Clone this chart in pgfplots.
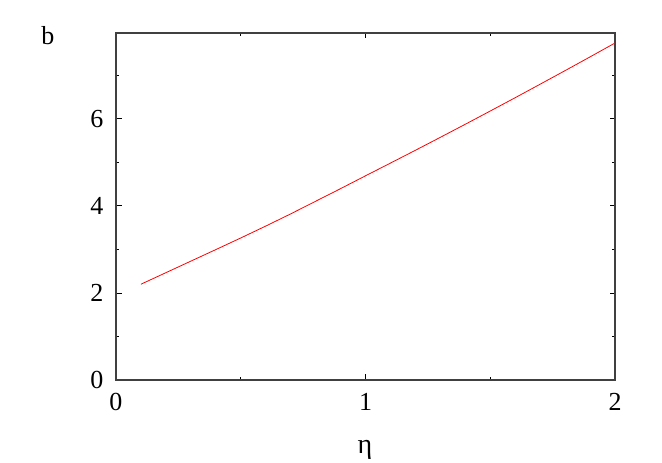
\documentclass[border=0pt]{standalone}
\usepackage{fontspec}
\setmainfont{Liberation Serif}
\usepackage{pgfplots}
\pgfplotsset{compat=1.18}
\definecolor{curvered}{HTML}{FF0000}

\begin{document}
\begin{tikzpicture}
\path[use as bounding box] (-116pt,-83pt) rectangle (546pt,380pt);
\begin{axis}[
  at={(0,0)}, anchor=south west,
  scale only axis, width=499pt, height=347pt,
  xmin=0, xmax=2, ymin=0, ymax=7.97,
  xtick={0,1,2}, ytick={0,2,4,6},
  minor xtick={0.5,1.5}, minor ytick={1,3,5,7},
  tick align=inside,
  major tick length=5.5pt, minor tick length=3pt,
  tick style={black, line width=0.8pt},
  axis line style={black!75, line width=1.2pt},
  tick label style={font=\fontsize{26}{26}\selectfont},
  /pgf/number format/assume math mode=true,
  xticklabel style={yshift=-10pt},
  yticklabel style={xshift=-9pt},
  clip=false,
]
\addplot[curvered, line width=0.8pt] coordinates {
  (0.1,2.200) (0.2,2.465) (0.3,2.730) (0.4,2.995) (0.5,3.262)
  (0.6,3.535) (0.7,3.815) (0.8,4.105) (0.9,4.395) (1.0,4.690)
  (1.1,4.982) (1.2,5.276) (1.3,5.574) (1.4,5.874) (1.5,6.178)
  (1.6,6.484) (1.7,6.794) (1.8,7.106) (1.9,7.421) (2.0,7.740)
};
\end{axis}
\node[font=\fontsize{26}{26}\selectfont] at (-68pt,344pt) {b};
\node[font=\fontsize{28}{28}\selectfont] at (249pt,-70pt) {η};
\end{tikzpicture}
\end{document}
